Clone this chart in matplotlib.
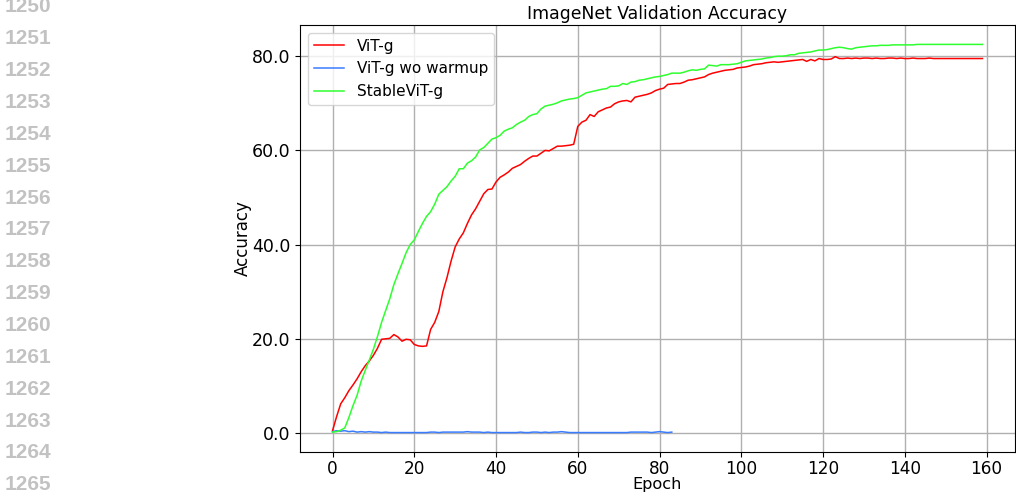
import matplotlib.pyplot as plt
import numpy as np
from matplotlib.ticker import FormatStrFormatter

# validation accuracy (%) per epoch
vit_g = [0.5, 3.5, 6.2, 7.5, 9.0, 10.2, 11.5, 13.0, 14.3, 15.3,
         16.5, 18.0, 19.9, 20.0, 20.1, 20.9, 20.4, 19.5, 19.9, 19.8,
         18.8, 18.5, 18.4, 18.5, 22.0, 23.5, 25.8, 30.0, 33.0, 36.5,
         39.5, 41.2, 42.5, 44.5, 46.3, 47.6, 49.2, 50.8, 51.7, 51.8,
         53.3, 54.3, 54.8, 55.4, 56.2, 56.6, 57.0, 57.7, 58.3, 58.8,
         58.8, 59.4, 60.0, 59.9, 60.4, 60.9, 60.9, 61.0, 61.1, 61.3,
         65.1, 66.0, 66.4, 67.6, 67.2, 68.2, 68.6, 69.0, 69.2, 69.9,
         70.3, 70.5, 70.6, 70.3, 71.3, 71.5, 71.7, 71.9, 72.2, 72.7,
         73.0, 73.2, 74.0, 74.1, 74.2, 74.2, 74.5, 74.9, 75.0, 75.2,
         75.4, 75.6, 76.1, 76.4, 76.6, 76.8, 77.0, 77.1, 77.2, 77.5,
         77.6, 77.7, 77.9, 78.2, 78.3, 78.4, 78.6, 78.7, 78.8, 78.7,
         78.8, 78.9, 79.0, 79.1, 79.2, 79.3, 78.9, 79.3, 79.0, 79.5,
         79.3, 79.3, 79.4, 79.9, 79.5, 79.5, 79.6, 79.5, 79.6, 79.5,
         79.6, 79.6, 79.5, 79.6, 79.5, 79.5, 79.6, 79.6, 79.5, 79.6,
         79.5, 79.5, 79.6, 79.5, 79.5, 79.5, 79.6, 79.5, 79.5, 79.5,
         79.5, 79.5, 79.5, 79.5, 79.5, 79.5, 79.5, 79.5, 79.5, 79.5]

vit_g_wo_warmup = [0.3, 0.5, 0.4, 0.5, 0.3, 0.4, 0.2, 0.3, 0.2, 0.3,
                   0.2, 0.2, 0.1, 0.2, 0.1, 0.1, 0.1, 0.1, 0.1, 0.1,
                   0.1, 0.1, 0.1, 0.1, 0.2, 0.2, 0.1, 0.2, 0.2, 0.2,
                   0.2, 0.2, 0.2, 0.3, 0.2, 0.2, 0.2, 0.1, 0.2, 0.1,
                   0.1, 0.1, 0.1, 0.1, 0.1, 0.1, 0.2, 0.1, 0.1, 0.2,
                   0.2, 0.1, 0.2, 0.1, 0.2, 0.2, 0.3, 0.2, 0.1, 0.1,
                   0.1, 0.1, 0.1, 0.1, 0.1, 0.1, 0.1, 0.1, 0.1, 0.1,
                   0.1, 0.1, 0.1, 0.2, 0.2, 0.2, 0.2, 0.2, 0.1, 0.2,
                   0.3, 0.2, 0.1, 0.2]

stable_vit_g = [0.2, 0.3, 0.6, 1.1, 3.3, 5.8, 8.0, 11.0, 13.3, 15.5,
                17.8, 20.5, 23.5, 26.0, 28.5, 31.5, 33.8, 36.0, 38.3, 40.0,
                41.0, 42.8, 44.5, 46.0, 47.0, 48.6, 50.7, 51.5, 52.3, 53.5,
                54.5, 56.1, 56.1, 57.3, 57.8, 58.6, 60.1, 60.6, 61.5, 62.4,
                62.7, 63.2, 64.1, 64.5, 64.8, 65.5, 66.0, 66.4, 67.2, 67.6,
                67.8, 68.8, 69.4, 69.6, 69.8, 70.1, 70.5, 70.7, 70.9, 71.0,
                71.2, 71.7, 72.2, 72.4, 72.6, 72.8, 73.0, 73.1, 73.6, 73.6,
                73.7, 74.2, 74.0, 74.5, 74.6, 74.9, 75.0, 75.2, 75.4, 75.6,
                75.7, 75.9, 76.1, 76.4, 76.4, 76.4, 76.6, 76.9, 77.1, 77.0,
                77.2, 77.3, 78.1, 78.0, 77.9, 78.2, 78.2, 78.2, 78.3, 78.4,
                78.7, 79.0, 79.1, 79.2, 79.3, 79.4, 79.6, 79.7, 79.9, 80.0,
                80.0, 80.1, 80.3, 80.3, 80.6, 80.7, 80.8, 80.9, 81.1, 81.3,
                81.3, 81.4, 81.6, 81.8, 81.9, 81.8, 81.6, 81.5, 81.8, 81.9,
                82.0, 82.1, 82.2, 82.2, 82.3, 82.3, 82.3, 82.4, 82.4, 82.4,
                82.4, 82.4, 82.4, 82.5, 82.5, 82.5, 82.5, 82.5, 82.5, 82.5,
                82.5, 82.5, 82.5, 82.5, 82.5, 82.5, 82.5, 82.5, 82.5, 82.5]

line_numbers = list(range(1250, 1266))

fig = plt.figure(figsize=(10.16, 4.93), dpi=100)
ax = fig.add_axes([0.2953, 0.0832, 0.7037, 0.8661])

ax.plot(np.arange(len(vit_g)), vit_g, color='#ff0000', lw=1.1, label='ViT-g')
ax.plot(np.arange(len(vit_g_wo_warmup)), vit_g_wo_warmup, color='#3a7cff',
        lw=1.1, label='ViT-g wo warmup')
ax.plot(np.arange(len(stable_vit_g)), stable_vit_g, color='#2eff2e',
        lw=1.1, label='StableViT-g')

ax.set_title('ImageNet Validation Accuracy', fontsize=12.4, pad=4)
ax.set_xlabel('Epoch', fontsize=11.6, labelpad=-1.0)
ax.set_ylabel('Accuracy', fontsize=12, labelpad=0)
ax.set_xticks(np.arange(0, 161, 20))
ax.set_yticks(np.arange(0, 81, 20))
ax.yaxis.set_major_formatter(FormatStrFormatter('%.1f'))
ax.tick_params(labelsize=12.5)
ax.tick_params(axis='x', pad=2.3, labelsize=12.2)
ax.grid(True, color='#b0b0b0', lw=1)
ax.legend(loc='upper left', fontsize=11)

# line numbering in the margin
for i, n in enumerate(line_numbers):
    fig.text(0.005, 1 - (7 + 31.85 * i) / 493, str(n), fontsize=15,
             family='Liberation Sans', weight='bold', color='#c2c2c2',
             va='center', ha='left')

fig.savefig('out.png', dpi=100)
